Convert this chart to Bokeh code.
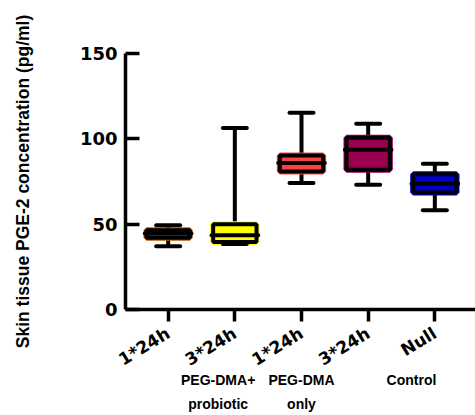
from bokeh.plotting import figure
from bokeh.models import Range1d, FixedTicker, LinearAxis
from bokeh.embed import file_html
from bokeh.resources import INLINE

categories = ["1*24h", "3*24h", "1*24h", "3*24h", "Null"]
whisker_low = [37.0, 38.4, 74.1, 73.1, 58.1]
q1 = [42.1, 39.6, 80.9, 81.9, 68.5]
medians = [44.5, 43.5, 85.8, 93.6, 73.7]
q3 = [46.4, 49.9, 90.3, 100.6, 79.2]
whisker_high = [49.3, 106.3, 115.3, 108.8, 85.4]
box_colors = ["#C05A00", "#FFFF00", "#FF4040", "#990050", "#0000CC"]
group_labels = ["PEG-DMA+\nprobiotic", "PEG-DMA\nonly", "Control"]
group_pos = [1.75, 3.0, 4.65]
y_ticks = [0, 50, 100, 150]

xs = list(range(1, len(categories) + 1))
box_w, med_w, cap_w = 0.65, 0.70, 0.36

p = figure(width=475, height=415, output_backend="svg", toolbar_location=None,
           x_range=Range1d(0.36, 5.61), y_range=Range1d(0, 150),
           min_border_left=125, min_border_right=0, min_border_top=53,
           min_border_bottom=106)
p.outline_line_color = None
p.grid.visible = False
p.border_fill_color = "white"

# whiskers
p.segment(xs, whisker_low, xs, whisker_high, line_color="black", line_width=4)
# boxes
left = [x - box_w / 2 for x in xs]
right = [x + box_w / 2 for x in xs]
p.quad(left=left, right=right, bottom=q1, top=q3, fill_color=box_colors,
       line_color=box_colors, line_width=6)
p.quad(left=left, right=right, bottom=q1, top=q3, fill_color=None,
       line_color="black", line_width=4)
# medians
p.segment([x - med_w / 2 for x in xs], medians, [x + med_w / 2 for x in xs], medians,
          line_color="black", line_width=4, line_cap="round")
# caps
for vals in (whisker_low, whisker_high):
    p.segment([x - cap_w / 2 for x in xs], vals, [x + cap_w / 2 for x in xs], vals,
              line_color="black", line_width=4, line_cap="round")

# axes
p.xaxis.ticker = FixedTicker(ticks=xs)
p.xaxis.major_label_overrides = {x: c for x, c in zip(xs, categories)}
p.xaxis.major_label_orientation = 0.55
p.xaxis.minor_tick_line_color = None
p.xaxis.major_tick_in = 0
p.xaxis.major_tick_out = 12
p.xaxis.major_label_standoff = 10
p.xaxis.major_label_text_font = "DejaVu Sans"
p.xaxis.major_label_text_font_style = "bold"
p.xaxis.major_label_text_font_size = "17px"

p.yaxis.ticker = FixedTicker(ticks=y_ticks)
p.yaxis.minor_tick_line_color = None
p.yaxis.major_tick_in = 14
p.yaxis.major_tick_out = 0
p.yaxis.major_label_standoff = 8
p.yaxis.major_label_text_font = "DejaVu Sans"
p.yaxis.major_label_text_font_style = "bold"
p.yaxis.major_label_text_font_size = "18px"
p.yaxis.axis_label = "Skin tissue PGE-2 concentration (pg/ml)"
p.yaxis.axis_label_text_font = "Liberation Sans"
p.yaxis.axis_label_text_font_style = "bold"
p.yaxis.axis_label_text_font_size = "17.5px"
p.yaxis.axis_label_standoff = 44

for ax in (p.xaxis, p.yaxis):
    ax.axis_line_width = 3.5
    ax.major_tick_line_width = 3.5
    ax.axis_line_color = "black"
    ax.major_tick_line_color = "black"
    ax.major_label_text_color = "black"
    ax.axis_label_text_color = "black"

# group labels as a second, line-less axis below
gaxis = LinearAxis(ticker=FixedTicker(ticks=group_pos),
                   major_label_overrides={gx: t for gx, t in zip(group_pos, group_labels)},
                   axis_line_color=None, major_tick_line_color=None,
                   minor_tick_line_color=None, major_tick_in=0, major_tick_out=0,
                   major_label_standoff=-10,
                   major_label_text_font="Liberation Sans",
                   major_label_text_font_style="bold",
                   major_label_text_font_size="14px",
                   major_label_text_line_height=1.5,
                   major_label_text_color="black")
p.add_layout(gaxis, "below")

open("out.html", "w").write(file_html(p, INLINE))
